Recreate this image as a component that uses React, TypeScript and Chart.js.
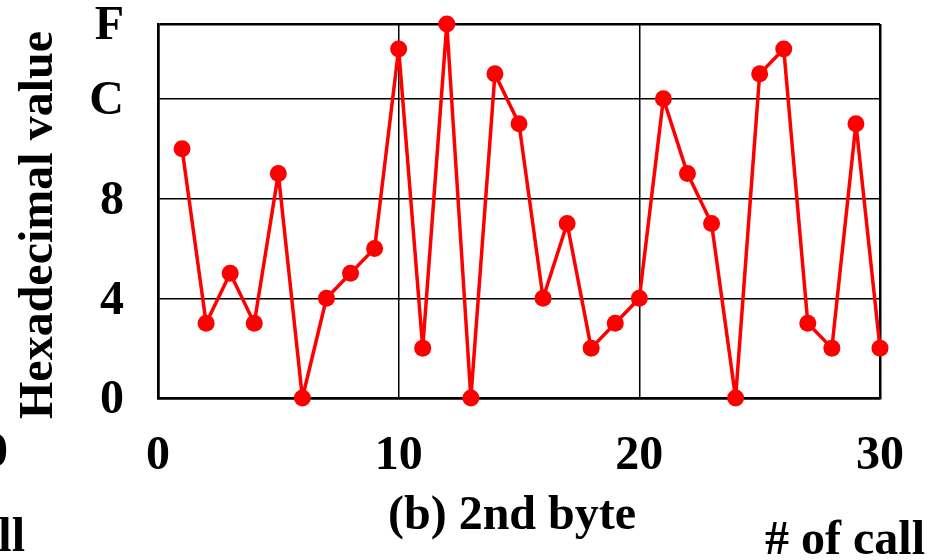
import React, { useEffect, useRef } from "react";
import { Chart, registerables } from "chart.js";

Chart.register(...registerables);

const calls = [1, 2, 3, 4, 5, 6, 7, 8, 9, 10, 11, 12, 13, 14, 15, 16, 17, 18, 19, 20, 21, 22, 23, 24, 25, 26, 27, 28, 29, 30];
const values = [10, 3, 5, 3, 9, 0, 4, 5, 6, 14, 2, 15, 0, 13, 11, 4, 7, 2, 3, 4, 12, 9, 7, 0, 13, 14, 3, 2, 11, 2];
const yTickValues = [0, 4, 8, 12, 15];
const xTickValues = [0, 10, 20, 30];
const yTitle = "Hexadecimal value";
const panelTitle = "(b) 2nd byte";
const xTitle = "# of call";
const neighbourTick = "30";

const FONT_FAMILY = "'Liberation Serif', 'Times New Roman', serif";
const FONT = "bold 48px " + FONT_FAMILY;

const textPlugin = {
  id: "panelTexts",
  afterDraw(chart: any) {
    const ctx = chart.ctx;
    ctx.save();
    ctx.fillStyle = "#000";
    ctx.font = FONT;
    // y-axis title (rotated)
    ctx.save();
    ctx.translate(52, 225);
    ctx.rotate(-Math.PI / 2);
    ctx.textAlign = "center";
    ctx.textBaseline = "alphabetic";
    ctx.fillText(yTitle, 0, 0);
    ctx.restore();
    // panel title
    ctx.textAlign = "center";
    ctx.textBaseline = "alphabetic";
    ctx.fillText(panelTitle, 512, 529);
    // x title
    ctx.textAlign = "right";
    ctx.fillText(xTitle, 925, 554);
    // fragments of the neighbouring panel (cut off at the left edge)
    ctx.fillText(xTitle, 25, 551);
    ctx.textAlign = "center";
    ctx.fillText(neighbourTick, -16, 466);
    ctx.restore();
  },
};

export default function App() {
  const ref = useRef<HTMLCanvasElement>(null);
  useEffect(() => {
    if (!ref.current) return;
    const edgeX = (c: any) => (c.tick && (c.tick.value === 0 || c.tick.value === 30) ? 2.5 : 1.5);
    const edgeY = (c: any) => (c.tick && (c.tick.value === 0 || c.tick.value === 15) ? 2.5 : 1.5);
    const chart = new Chart(ref.current, {
      type: "line",
      data: {
        datasets: [
          {
            data: calls.map((c, i) => ({ x: c, y: values[i] })),
            borderColor: "#ff0000",
            backgroundColor: "#ff0000",
            borderWidth: 3.5,
            borderJoinStyle: "round",
            borderCapStyle: "round",
            pointRadius: 8.5,
            pointBorderWidth: 0,
            pointBackgroundColor: "#ff0000",
            tension: 0,
            clip: false as any,
          },
        ],
      },
      options: {
        responsive: false,
        animation: false,
        layout: { padding: { left: 0, top: 24, right: 52, bottom: 0 } },
        plugins: { legend: { display: false }, tooltip: { enabled: false } },
        scales: {
          x: {
            type: "linear",
            min: 0,
            max: 30,
            afterBuildTicks: (s: any) => {
              s.ticks = xTickValues.map((v) => ({ value: v }));
            },
            afterFit: (s: any) => {
              s.height = 162;
              s.paddingLeft = 0;
              s.paddingRight = 0;
            },
            grid: { color: "#000", lineWidth: edgeX, drawTicks: false },
            border: { display: true, color: "#000", width: 2.5 },
            ticks: {
              color: "#000",
              padding: 30,
              maxRotation: 0,
              autoSkip: false,
              font: { family: FONT_FAMILY, size: 48, weight: "bold" },
            },
          },
          y: {
            type: "linear",
            min: 0,
            max: 15,
            afterBuildTicks: (s: any) => {
              s.ticks = yTickValues.map((v) => ({ value: v }));
            },
            afterFit: (s: any) => {
              s.width = 158;
              s.paddingTop = 0;
              s.paddingBottom = 0;
            },
            grid: { color: "#000", lineWidth: edgeY, drawTicks: false },
            border: { display: true, color: "#000", width: 2.5 },
            ticks: {
              color: "#000",
              padding: 34,
              labelOffset: 3,
              autoSkip: false,
              callback: (v: any) => Number(v).toString(16).toUpperCase(),
              font: { family: FONT_FAMILY, size: 48, weight: "bold" },
            },
          },
        },
      },
      plugins: [textPlugin],
    });
    return () => chart.destroy();
  }, []);
  return (
    <div style={{ position: "fixed", left: 0, top: 0, width: 932, height: 560, background: "#fff" }}>
      <canvas ref={ref} width={932} height={560} style={{ display: "block" }} />
    </div>
  );
}
